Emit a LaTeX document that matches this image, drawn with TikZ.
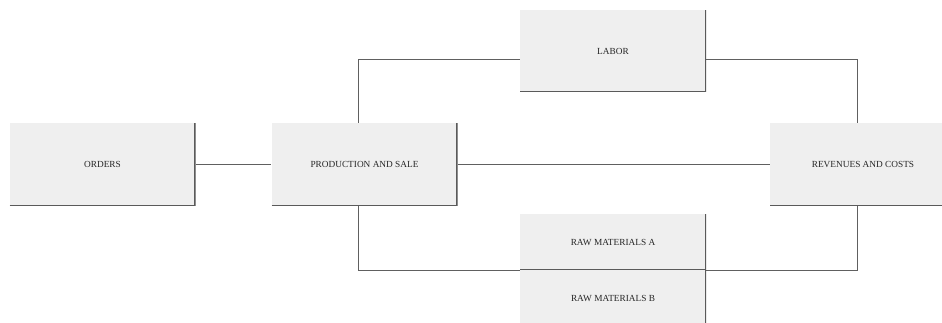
\documentclass[tikz,border=0pt]{standalone}
\usepackage{fontspec}
\setmainfont{Liberation Serif}
\usetikzlibrary{positioning}
\usepackage{xcolor}
\definecolor{BoxFill}{HTML}{EFEFEF}
\definecolor{EdgeGray}{HTML}{5A5A5A}
\definecolor{LineGray}{HTML}{606060}
\definecolor{TextDark}{HTML}{262626}

\begin{document}
\begin{tikzpicture}[
            x=1pt, y=-1pt,
            box/.style={rectangle, fill=BoxFill, inner sep=0pt, minimum width=186pt, minimum height=83pt, align=center, text=TextDark, font=\fontsize{9.3}{10}\selectfont,
                path picture={\draw[EdgeGray, line width=2.6pt] (path picture bounding box.south west) -- (path picture bounding box.south east) -- (path picture bounding box.north east);}},
            halfbox/.style={box, minimum height=56pt},
            link/.style={line width=0.8pt, color=LineGray}
        ]
            \useasboundingbox (0,0) rectangle (942,323);

            % Main row
            \node[box] (orders) at (102.5,164.5) {ORDERS};
            \node[box] (prod) at (364.5,164.5) {PRODUCTION AND SALE};
            \node[box] (rev) at (863,164.5) {REVENUES AND COSTS};

            % Resources
            \node[box, minimum height=82pt] (labor) at (613,51) {LABOR};
            \node[halfbox] (rawa) at (613,242) {RAW MATERIALS A};
            \node[halfbox, below=0pt of rawa] (rawb) {RAW MATERIALS B};

            % Connectors
            \draw[link] ([xshift=-6pt]prod.north) |- ([yshift=-8pt]labor.west);
            \draw[link] ([yshift=-8pt]labor.east) -| ([xshift=-6pt]rev.north);
            \draw[link] (orders) -- (prod);
            \draw[link] (prod) -- (rev);
            \draw[link] ([xshift=-6pt]prod.south) |- (rawa.south west);
            \draw[link] (rawa.south east) -| ([xshift=-6pt]rev.south);
        \end{tikzpicture}
\end{document}
